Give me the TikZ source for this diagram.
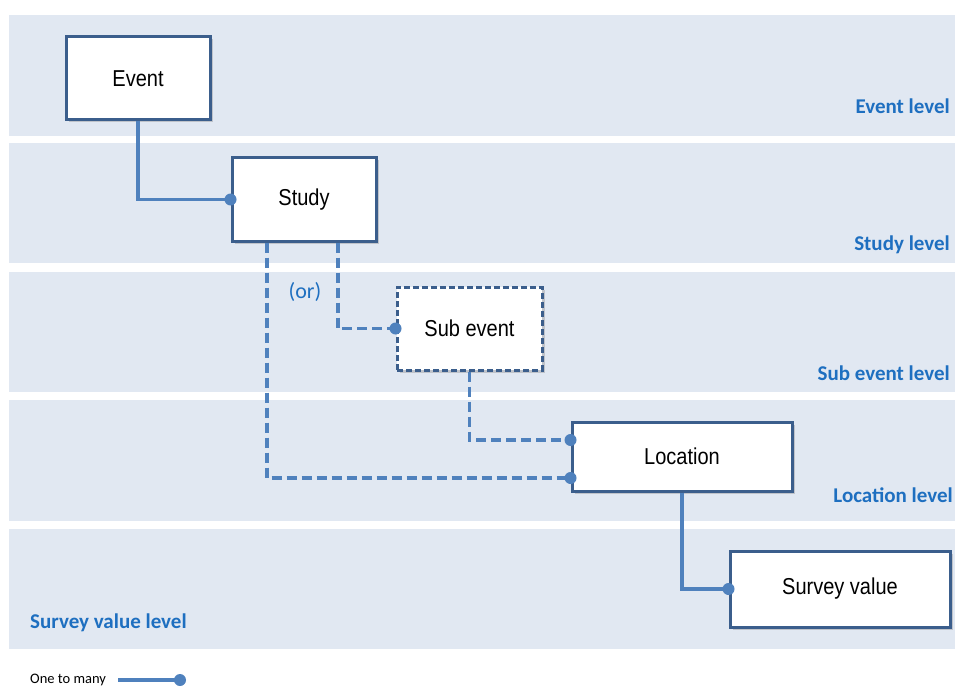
\documentclass[tikz,border=0pt]{standalone}
\usepackage{fontspec}
\setmainfont{Liberation Sans}
\newfontfamily\calib{Carlito}
\usetikzlibrary{shadows,calc}
\definecolor{bandfill}{HTML}{E1E8F2}
\definecolor{linkblue}{HTML}{4F81BD}
\definecolor{boxedge}{HTML}{3B5E8C}
\definecolor{lvlblue}{HTML}{1E6FC0}
\tikzset{
  band/.style={fill=bandfill, draw=none},
  entity/.style={draw=boxedge, line width=3pt, fill=white,
    drop shadow={shadow xshift=2.5pt, shadow yshift=-2.5pt, opacity=0.35},
    font=\fontsize{23}{26}\selectfont, inner sep=0pt},
  subentity/.style={entity, dash pattern=on 6pt off 3pt},
  link/.style={draw=linkblue, line width=3.5pt},
  optlink/.style={link, dash pattern=on 10pt off 5pt},
  lvl/.style={font=\calib\bfseries\fontsize{21}{25}\selectfont, text=lvlblue, inner sep=0pt},
  dot/.style={fill=linkblue}
}
\newcommand{\narrow}[1]{\scalebox{0.87}[1]{#1}}
\begin{document}
\begin{tikzpicture}[x=1pt,y=-1pt]
\useasboundingbox (0,0) rectangle (955,687);
% level bands
\path[band] (9,15) rectangle (955,136);
\path[band] (9,143) rectangle (955,263);
\path[band] (9,272) rectangle (955,392);
\path[band] (9,400) rectangle (955,521);
\path[band] (9,529) rectangle (955,649);
% level labels
\node[lvl, anchor=base east] (lEvent) at (950,114) {Event level};
\node[lvl, anchor=base east] (lStudy) at (950,250) {Study level};
\node[lvl, anchor=base east] (lSub) at (950,380) {Sub event level};
\node[lvl, anchor=base east] (lLoc) at (953,502) {Location level};
\node[lvl, anchor=base west] (lSurvey) at (30,628) {Survey value level};
% entities
\node[entity, minimum width=144pt, minimum height=83pt] (event) at (138,78.5) {\narrow{Event}};
\node[entity, minimum width=144pt, minimum height=83pt] (study) at (304,199.5) {\narrow{Study}};
\node[subentity, minimum width=145pt, minimum height=83pt] (sub) at (469.5,328.5) {\narrow{Sub event}};
\node[entity, minimum width=220pt, minimum height=69pt] (loc) at (682,456.5) {\narrow{Location}};
\node[entity, minimum width=220pt, minimum height=76pt] (survey) at (840,589) {\narrow{Survey value}};
% connection points
\coordinate (studyA) at ([xshift=-37pt]study.south);
\coordinate (studyB) at ([xshift=34pt]study.south);
\coordinate (locA) at ([yshift=16.5pt]loc.west);
\coordinate (locB) at ([yshift=-21.5pt]loc.west);
\coordinate (locS) at (loc.south);
% one-to-many links
\draw[link] (event.south) |- (study.west);
\draw[optlink] (studyB) |- (sub.west);
\draw[optlink] (studyA) |- (locB);
\draw[optlink] (sub.south) |- (locA);
\draw[link] (locS) |- (survey.west);
\fill[dot] (study.west) circle (6pt);
\fill[dot] (sub.west) circle (6pt);
\fill[dot] (locA) circle (6pt);
\fill[dot] (locB) circle (6pt);
\fill[dot] (survey.west) circle (6pt);
% alternative marker
\node[font=\calib\fontsize{22}{26}\selectfont, text=lvlblue] (alt) at (305,292) {(or)};
% legend
\node[font=\calib\fontsize{14.5}{17}\selectfont, anchor=west, inner sep=0pt] (legend) at (30,680) {One to many};
\coordinate (legA) at (118,680);
\coordinate (legB) at (180,680);
\draw[link] (legA) -- (legB);
\fill[dot] (legB) circle (6pt);
\end{tikzpicture}
\end{document}
